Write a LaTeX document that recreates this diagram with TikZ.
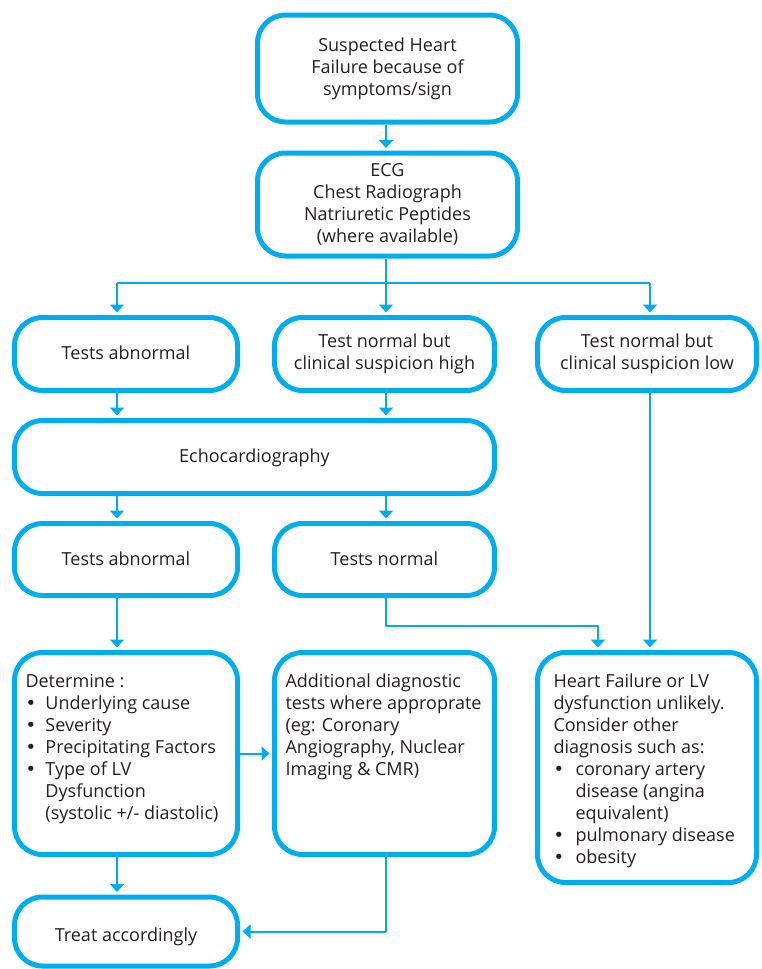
\documentclass[tikz,border=0pt]{standalone}
\usepackage{fontspec}
\setmainfont{Open Sans}
\newfontfamily\dotfont{DejaVu Sans}
\usetikzlibrary{arrows.meta}
\definecolor{hfblue}{HTML}{00AEEF}
\definecolor{hfink}{HTML}{231F20}
\newcommand{\bitem}[1]{\makebox[#1][l]{\dotfont •}}
\newcommand{\bgap}[1]{\hspace*{#1}}

\begin{document}
\begin{tikzpicture}[x=1pt, y=-1pt, line join=round, >={Triangle[width=14pt,length=8pt]}]
	\tikzset{box/.style={draw=hfblue, line width=5pt, rounded corners=28pt, align=center, inner sep=0pt,
			text=hfink, font=\fontsize{18}{22}\selectfont},
		single/.style={text height=14pt, text depth=3pt},
		link/.style={draw=hfblue, line width=2pt, ->, shorten >=2.5pt},
		conn/.style={draw=hfblue, line width=2pt}}
	\useasboundingbox (0,0) rectangle (761,969);
	
	\node[box, minimum width=260pt, minimum height=107pt] (susp) at (387.5,68.5) {Suspected Heart\\Failure because of\\symptoms/sign};
	\node[box, minimum width=260pt, minimum height=103pt] (ecg) at (387.5,204.5) {ECG\\Chest Radiograph\\Natriuretic Peptides\\(where available)};
	
	\node[box, single, minimum width=223pt, minimum height=73pt] (ta1) at (126,354) {Tests abnormal};
	\node[box, minimum width=220pt, minimum height=73pt] (tnh) at (384.5,354) {Test normal but\\clinical suspicion high};
	\node[box, minimum width=219pt, minimum height=73pt] (tnl) at (647,354) {Test normal but\\clinical suspicion low};
	
	\node[box, single, minimum width=480pt, minimum height=73pt] (echo) at (254.5,457) {Echocardiography};
	
	\node[box, single, minimum width=223pt, minimum height=72pt] (ta2) at (126,559.5) {Tests abnormal};
	\node[box, single, minimum width=220pt, minimum height=72pt] (tn2) at (384.5,559.5) {Tests normal};
	
	\node[box, inner ysep=20pt] (det) at (126,753.5) {\parbox[c][162pt][t]{223pt}{\raggedright\leftskip=11pt
			\strut Determine :\\
			\bitem{20pt}Underlying cause\\
			\bitem{20pt}Severity\\
			\bitem{20pt}Precipitating Factors\\
			\bitem{20pt}Type of LV\\
			\bgap{20pt}Dysfunction\\
			\bgap{20pt}(systolic +/- diastolic)}};
	\node[box, inner ysep=20pt] (add) at (384.5,753.5) {\parbox[c][162pt][t]{220pt}{\raggedright\leftskip=11pt
			\strut Additional diagnostic\\
			tests where approprate\\
			(eg: Coronary\\
			Angiography, Nuclear\\
			Imaging \& CMR)}};
	\node[box, inner ysep=20pt] (hf) at (647,767.5) {\parbox[c][190pt][t]{219pt}{\raggedright\leftskip=16pt
			\strut Heart Failure or LV\\
			dysfunction unlikely.\\
			Consider other\\
			diagnosis such as:\\
			\bitem{22pt}coronary artery\\
			\bgap{22pt}disease (angina\\
			\bgap{22pt}equivalent)\\
			\bitem{22pt}pulmonary disease\\
			\bitem{22pt}obesity}};
	
	\node[box, single, text height=23pt, minimum width=223pt, minimum height=69pt] (treat) at (126,931.5) {Treat accordingly};
	
	% columns of the connectors
	\coordinate (colL) at (117,0);
	\coordinate (colM) at (386,0);
	\coordinate (colR) at (650,0);
	\coordinate (fork) at (0,283);
	\coordinate (jog) at (598,626);
	
	\draw[link] (susp.south -| colM) -- (ecg.north -| colM);
	\draw[conn] (ecg.south -| colM) -- (fork -| colM);
	\draw[conn] (fork -| colL) -- (fork -| colR);
	\foreach \c/\n in {colL/ta1, colM/tnh, colR/tnl}
	\draw[link] (fork -| \c) -- (\n.north -| \c);
	\draw[link] (ta1.south -| colL) -- (echo.north -| colL);
	\draw[link] (tnh.south -| colM) -- (echo.north -| colM);
	\draw[link] (echo.south -| colL) -- (ta2.north -| colL);
	\draw[link] (echo.south -| colM) -- (tn2.north -| colM);
	\draw[link] (ta2.south -| colL) -- (det.north -| colL);
	\draw[link] (tn2.south -| colM) |- (jog) -- (hf.north -| jog);
	\draw[link] (tnl.south -| colR) -- (hf.north -| colR);
	\draw[link] (det) -- (add);
	\draw[link] (det.south -| colL) -- (treat.north -| colL);
	\draw[link] (add.south -| colM) |- (treat.east);
\end{tikzpicture}
\end{document}
